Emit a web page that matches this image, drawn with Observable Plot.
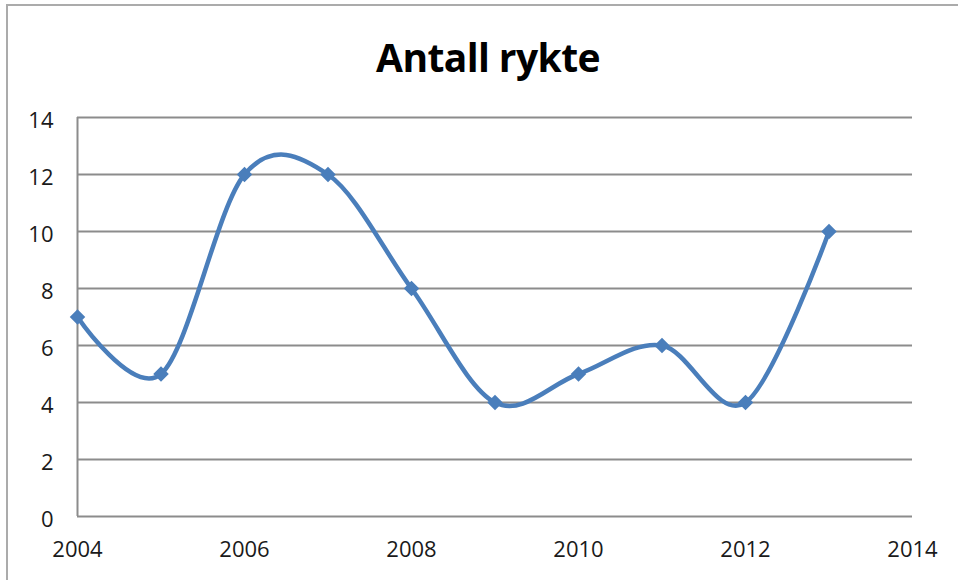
<!DOCTYPE html>
<html><head><meta charset="utf-8">
<script src="https://cdn.jsdelivr.net/npm/d3@7"></script>
<script src="https://cdn.jsdelivr.net/npm/@observablehq/plot@0.6"></script>
<style>
body{margin:0;background:#fff;}
#wrap{position:relative;width:958px;height:580px;overflow:hidden;background:#fff;}
#frame{position:absolute;left:6px;top:4px;width:980px;height:600px;border-top:2px solid #ababab;border-left:2px solid #ababab;pointer-events:none;}
#title{position:absolute;left:0;top:33px;width:976px;text-align:center;font-family:"Open Sans",sans-serif;font-weight:700;font-size:39px;color:#000;line-height:48px;letter-spacing:-0.6px;}
#chart{position:absolute;left:0;top:95px;}
</style>
</head><body>
<div id="wrap">
  <div id="title">Antall rykte</div>
  <div id="chart"></div>
  <div id="frame"></div>
</div>
<script>
const years = [2004, 2005, 2006, 2007, 2008, 2009, 2010, 2011, 2012, 2013];
const values = [7, 5, 12, 12, 8, 4, 5, 6, 4, 10];
const xTicks = [2004, 2006, 2008, 2010, 2012, 2014];
const yTicks = [0, 2, 4, 6, 8, 10, 12, 14];

const data = years.map((year, i) => ({year, value: values[i]}));
const gridColor = "#8c8c8c";
const lineColor = "#4a7ebb";

const chart = Plot.plot({
  width: 958,
  height: 485,
  marginTop: 22,
  marginBottom: 64,
  marginLeft: 77,
  marginRight: 46,
  style: {fontFamily: "'Open Sans', sans-serif", fontSize: "22px", color: "#1a1a1a", background: "transparent", overflow: "visible"},
  x: {domain: [2004, 2014], label: null},
  y: {domain: [0, 14], label: null},
  marks: [
    Plot.gridY(yTicks, {stroke: gridColor, strokeOpacity: 1, strokeWidth: 2}),
    Plot.ruleX([2004], {y1: 0, y2: 14, stroke: gridColor, strokeWidth: 2}),
    Plot.axisX(xTicks, {tickSize: 0, tickPadding: 25, tickFormat: d => String(d), label: null, fill: "#1a1a1a", fontSize: 22}),
    Plot.axisY(yTicks, {tickSize: 0, tickPadding: 24, label: null, fill: "#1a1a1a", fontSize: 22, dy: 3}),
    Plot.line(data, {x: "year", y: "value", curve: "cardinal", tension: 0, stroke: lineColor, strokeWidth: 4.5}),
    Plot.dot(data, {x: "year", y: "value", symbol: "diamond2", r: 7, fill: lineColor, stroke: "none"})
  ]
});
document.getElementById("chart").appendChild(chart);
</script>
</body></html>
